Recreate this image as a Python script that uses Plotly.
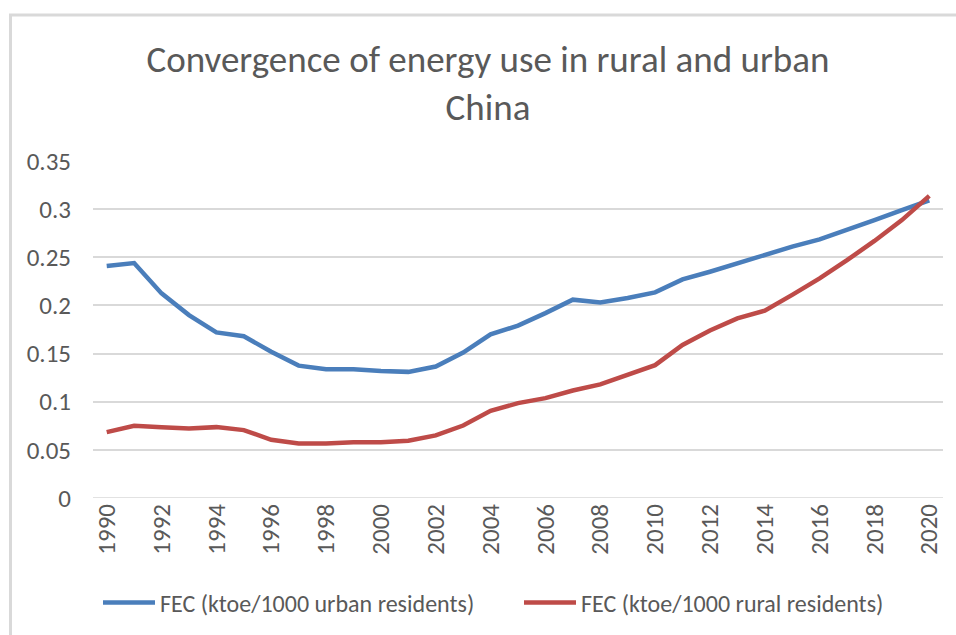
import plotly.graph_objects as go

years = list(range(1990, 2021))
urban = [0.241, 0.244, 0.2125, 0.190, 0.172, 0.168, 0.152, 0.1375, 0.1337, 0.1337,
         0.132, 0.131, 0.1365, 0.151, 0.170, 0.179, 0.192, 0.206, 0.203, 0.2077,
         0.2136, 0.227, 0.235, 0.244, 0.2526, 0.261, 0.2685, 0.278, 0.2886, 0.299, 0.309]
rural = [0.0684, 0.075, 0.0736, 0.0722, 0.0736, 0.0705, 0.0605, 0.0567, 0.0567, 0.058,
         0.058, 0.0594, 0.065, 0.0753, 0.0905, 0.0985, 0.1037, 0.1116, 0.118, 0.1286,
         0.138, 0.159, 0.174, 0.1866, 0.1946, 0.211, 0.228, 0.247, 0.267, 0.2886, 0.3138]
series_names = ["FEC (ktoe/1000 urban residents)", "FEC (ktoe/1000 rural residents)"]
y_tickvals = [0, 0.05, 0.1, 0.15, 0.2, 0.25, 0.3, 0.35]
y_ticktext = ["0", "0.05", "0.1", "0.15", "0.2", "0.25", "0.3", "0.35"]
x_tickvals = list(range(1990, 2021, 2))
x_ticktext = [str(v) for v in x_tickvals]
title_text = "Convergence of energy use in rural and urban<br>China"

FONT = "Carlito, Calibri, Lato, sans-serif"
GRAY = "#595959"

W, H = 956, 635
L, R, T, B = 93, 13, 161, 137
pw, ph = W - L - R, H - T - B

def px_x(x):
    return (x - L) / pw

def px_y(y):
    return (H - B - y) / ph

fig = go.Figure()
fig.add_trace(go.Scatter(x=years, y=urban, mode="lines", name=series_names[0],
                         line=dict(color="#4a7ebb", width=4.5)))
fig.add_trace(go.Scatter(x=years, y=rural, mode="lines", name=series_names[1],
                         line=dict(color="#be4b48", width=4.5)))

fig.update_layout(
    width=W, height=H,
    margin=dict(l=L, r=R, t=T, b=B, autoexpand=False),
    paper_bgcolor="white", plot_bgcolor="white",
    font=dict(family=FONT, color=GRAY),
    title=dict(text=title_text, x=488 / W, xanchor="center", xref="container",
               y=1 - 72 / H, yanchor="top", yref="container",
               font=dict(family=FONT, size=37, color=GRAY)),
    showlegend=True,
    legend=dict(orientation="h", x=px_x(98), xanchor="left", y=px_y(603), yanchor="middle",
                font=dict(family=FONT, size=24, color=GRAY),
                entrywidth=354, entrywidthmode="pixels", itemwidth=52,
                bgcolor="rgba(0,0,0,0)"),
    xaxis=dict(range=[1989.5, 2020.5], tickmode="array", tickvals=x_tickvals, ticktext=x_ticktext,
               tickangle=-90, showgrid=False, zeroline=False, showline=False, ticks="",
               ticklabelstandoff=0, tickfont=dict(family=FONT, size=25, color=GRAY),
               fixedrange=True),
    yaxis=dict(range=[0, 0.35], tickmode="array", tickvals=y_tickvals, ticktext=y_ticktext,
               showgrid=True, gridcolor="#d9d9d9", gridwidth=1.5, zeroline=False,
               showline=False, ticks="", ticklabelstandoff=21,
               tickfont=dict(family=FONT, size=25, color=GRAY), fixedrange=True),
    shapes=[dict(type="path", xref="paper", yref="paper",
                 path=f"M {px_x(10.5)},{px_y(H)} L {px_x(10.5)},{px_y(15)} L {px_x(W)},{px_y(15)}",
                 line=dict(color="#d9d9d9", width=3), layer="below"),
            dict(type="line", xref="paper", yref="y", x0=0, x1=1, y0=0, y1=0,
                 line=dict(color="#d9d9d9", width=1.5), layer="below")],
)

fig.write_html("out.html", config={"displayModeBar": False},
               post_script="document.body.style.margin='0';")
